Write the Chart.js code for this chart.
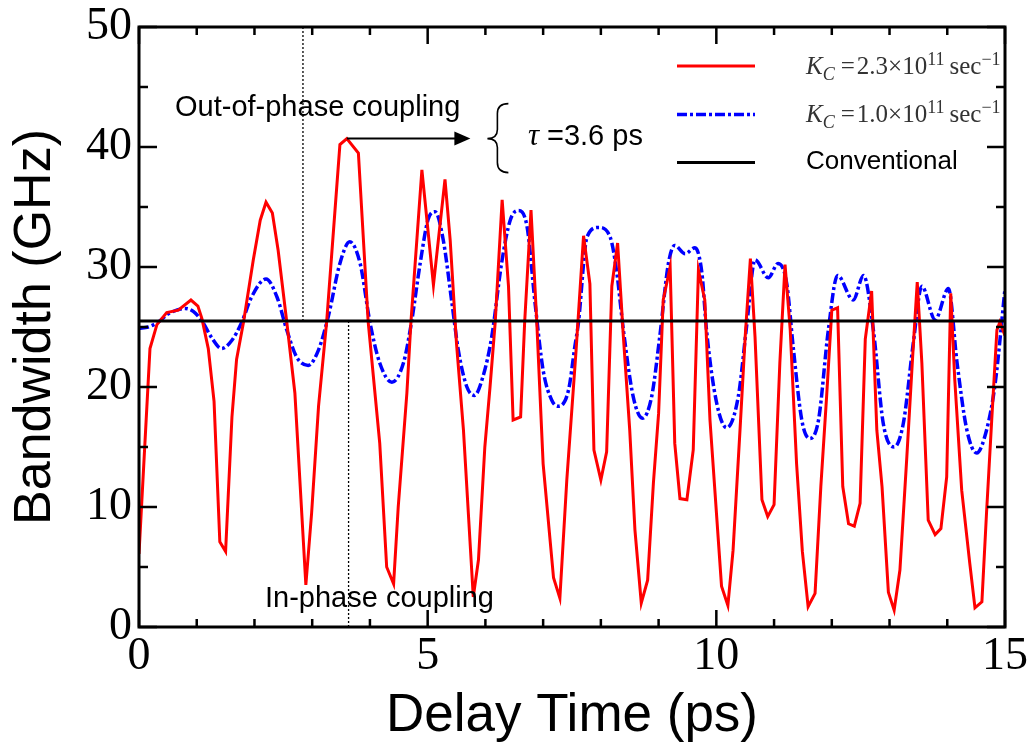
<!DOCTYPE html>
<html><head><meta charset="utf-8">
<script src="https://cdn.jsdelivr.net/npm/chart.js@4.4.1/dist/chart.umd.min.js"></script>
<style>html,body{margin:0;padding:0;background:#fff}#wrap{width:1035px;height:749px}</style>
</head><body><div id="wrap"><canvas id="c" width="1035" height="749"></canvas></div>
<script>
// ---------- data ----------
const redTime = [0,0.19,0.31,0.48,0.68,0.90,1.02,1.09,1.20,1.30,1.40,1.50,1.61,1.69,1.81,1.98,2.10,2.20,2.31,2.41,2.56,2.70,2.89,2.99,3.11,3.25,3.48,3.60,3.80,3.97,4.17,4.29,4.41,4.49,4.64,4.71,4.90,5.10,5.30,5.39,5.50,5.62,5.79,5.88,5.99,6.08,6.17,6.29,6.40,6.48,6.61,6.68,6.79,6.89,7.00,7.18,7.29,7.41,7.57,7.70,7.81,7.88,8.00,8.10,8.19,8.29,8.39,8.50,8.59,8.70,8.81,8.91,9.00,9.08,9.20,9.28,9.37,9.49,9.60,9.69,9.80,9.89,10.09,10.20,10.29,10.41,10.50,10.59,10.67,10.79,10.89,11.00,11.10,11.19,11.28,11.39,11.49,11.59,11.71,11.81,11.91,12.00,12.10,12.19,12.29,12.39,12.49,12.58,12.69,12.78,12.87,12.98,13.08,13.18,13.30,13.40,13.48,13.56,13.67,13.79,13.89,13.99,14.06,14.13,14.25,14.39,14.48,14.60,14.68,14.77,14.86,14.91,15.00];
const redBandwidth = [6.1,23.2,25.2,26.2,26.4,27.25,26.75,25.7,23.2,18.8,7.1,6.3,17.5,22.3,25.4,30.6,33.9,35.4,34.5,31.4,25.4,19.5,3.5,9.5,18.4,25.4,40.2,40.7,39.5,25.4,15.3,5.0,3.6,10.0,19.5,25.4,38.1,28.5,37.3,32.25,23.6,16.4,2.5,5.6,15.0,20.0,25.4,35.6,28.4,17.25,17.5,25.4,34.75,25.4,13.6,4.1,2.4,12.25,23.0,32.6,28.6,14.75,12.25,14.6,28.4,32.0,24.2,16.4,8.1,2.0,3.9,12.0,17.8,27.25,30.0,15.3,10.7,10.6,14.75,29.75,27.25,17.25,3.4,1.8,6.4,16.4,24.2,30.7,24.2,10.6,9.2,10.2,22.0,30.2,24.75,13.6,6.3,1.7,2.8,11.7,19.2,26.4,26.6,11.7,8.6,8.4,10.3,24.0,28.0,16.4,11.7,2.9,1.4,4.75,14.2,22.5,28.75,22.0,8.9,7.7,8.2,12.5,27.8,20.6,11.4,5.3,1.6,2.1,9.5,17.25,24.75,25.4,24.3];

const blueTime = [0,0.16,0.33,0.51,0.80,0.94,1.09,1.26,1.43,1.61,1.78,1.95,2.20,2.39,2.56,2.73,2.93,3.11,3.28,3.48,3.65,3.83,4.00,4.17,4.38,4.58,4.72,4.87,5.01,5.13,5.27,5.42,5.53,5.68,5.81,5.96,6.11,6.28,6.43,6.57,6.72,6.86,7.00,7.15,7.26,7.44,7.55,7.61,7.76,7.96,8.16,8.27,8.39,8.56,8.72,8.88,9.02,9.17,9.28,9.46,9.63,9.75,9.83,10.00,10.18,10.38,10.53,10.67,10.90,11.07,11.22,11.33,11.48,11.62,11.77,11.94,12.10,12.37,12.55,12.72,12.89,13.08,13.24,13.41,13.56,13.79,14.02,14.17,14.34,14.51,14.68,14.83,15.00];
const blueBandwidth = [24.9,25.0,25.4,26.1,26.55,26.3,25.5,24.1,23.2,23.9,25.4,27.5,29.0,27.5,24.75,22.5,21.8,23.1,25.9,30.3,32.1,30.3,25.4,22.0,20.4,22.0,25.4,30.3,34.0,34.6,32.25,27.0,23.1,20.0,19.3,20.9,24.2,30.3,33.9,34.7,33.4,27.0,21.4,18.9,18.4,19.75,23.4,25.3,32.5,33.3,32.5,29.75,24.75,19.2,17.4,19.2,24.2,30.3,31.8,31.1,31.6,29.5,24.75,18.8,16.6,19.2,25.3,30.6,29.1,30.3,28.6,23.4,17.25,15.7,17.25,24.75,29.3,27.25,29.3,24.75,17.0,15.0,17.0,23.6,28.4,25.6,28.2,22.0,16.4,14.5,16.4,20.3,28.2];

const convTime = [0, 15];
const convBandwidth = [25.5, 25.5];

const xMajorTicks = [0, 5, 10, 15];
const yMajorTicks = [0, 10, 20, 30, 40, 50];

// annotation anchors (data units)
const inPhaseLineT = 2.84;
const outPhaseLineT = 3.63;
const arrowStart = {x: 3.6, y: 40.7};
const arrowEndT = 5.74;

const legendItems = [
  {kind: 'kc', value: '2.3', color: '#ff0000', dash: [], width: 3},
  {kind: 'kc', value: '1.0', color: '#0000ff', dash: [10,3,3,3], width: 3.5},
  {kind: 'text', text: 'Conventional', color: '#000000', dash: [], width: 3}
];

// ---------- chart ----------
const toPts = (t, v) => t.map((x, i) => ({x, y: v[i]}));

const SERIF = '"Liberation Serif", "Times New Roman", serif';
const SANS = '"Liberation Sans", Arial, sans-serif';

const overlay = {
  id: 'overlay',
  beforeDatasetsDraw(chart) {
    const {ctx, chartArea: a, scales: {x, y}} = chart;
    ctx.save();
    ctx.strokeStyle = '#000';
    ctx.lineWidth = 1.3;
    ctx.setLineDash([2, 2]);
    const yc = y.getPixelForValue(convBandwidth[0]);
    let px = x.getPixelForValue(inPhaseLineT);
    ctx.beginPath(); ctx.moveTo(px, a.top); ctx.lineTo(px, yc); ctx.stroke();
    px = x.getPixelForValue(outPhaseLineT);
    ctx.beginPath(); ctx.moveTo(px, yc); ctx.lineTo(px, a.bottom); ctx.stroke();
    ctx.restore();
  },
  afterDraw(chart) {
    const {ctx, chartArea: a, scales: {x, y}} = chart;
    ctx.save();
    // frame
    ctx.strokeStyle = '#000';
    ctx.lineWidth = 3;
    ctx.setLineDash([]);
    ctx.strokeRect(a.left, a.top, a.right - a.left, a.bottom - a.top);
    // ticks (inward, on all four sides)
    ctx.lineWidth = 2.5;
    x.ticks.forEach(t => {
      const p = x.getPixelForValue(t.value);
      const len = xMajorTicks.includes(t.value) ? 17 : 8;
      ctx.beginPath();
      ctx.moveTo(p, a.bottom); ctx.lineTo(p, a.bottom - len);
      ctx.moveTo(p, a.top); ctx.lineTo(p, a.top + len);
      ctx.stroke();
    });
    y.ticks.forEach(t => {
      const p = y.getPixelForValue(t.value);
      const len = yMajorTicks.includes(t.value) ? 18 : 9;
      ctx.beginPath();
      ctx.moveTo(a.left, p); ctx.lineTo(a.left + len, p);
      ctx.moveTo(a.right, p); ctx.lineTo(a.right - len, p);
      ctx.stroke();
    });

    // arrow
    const ax0 = x.getPixelForValue(arrowStart.x), ay = y.getPixelForValue(arrowStart.y);
    const ax1 = x.getPixelForValue(arrowEndT);
    ctx.lineWidth = 2;
    ctx.beginPath(); ctx.moveTo(ax0, ay); ctx.lineTo(ax1 - 12, ay); ctx.stroke();
    ctx.fillStyle = '#000';
    ctx.beginPath(); ctx.moveTo(ax1, ay); ctx.lineTo(ax1 - 16, ay - 7); ctx.lineTo(ax1 - 16, ay + 7); ctx.closePath(); ctx.fill();

    // brace
    const bx = ax1 + 27, bt = ay - 35, bb = ay + 34;
    ctx.lineWidth = 1.6;
    ctx.beginPath();
    ctx.moveTo(bx + 11, bt);
    ctx.quadraticCurveTo(bx, bt, bx, bt + 10);
    ctx.lineTo(bx, ay - 9);
    ctx.quadraticCurveTo(bx, ay, bx - 10, ay);
    ctx.quadraticCurveTo(bx, ay, bx, ay + 9);
    ctx.lineTo(bx, bb - 10);
    ctx.quadraticCurveTo(bx, bb, bx + 11, bb);
    ctx.stroke();

    // texts
    ctx.fillStyle = '#000';
    ctx.textBaseline = 'alphabetic';
    ctx.textAlign = 'left';
    ctx.font = 'italic 31px ' + SERIF;
    ctx.fillText('\u03c4', 528, ay + 6);
    ctx.font = '29px ' + SANS;
    ctx.fillText('=3.6 ps', 547, ay + 6);
    ctx.fillText('Out-of-phase coupling', 175, 116);
    ctx.fillText('In-phase coupling', 265, 607);

    // legend
    const lx0 = 677, lx1 = 755, tx = 806;
    const rows = [66, 114.5, 162.5];
    legendItems.forEach((it, i) => {
      const ly = rows[i];
      ctx.strokeStyle = it.color;
      ctx.lineWidth = it.width;
      ctx.setLineDash(it.dash);
      ctx.beginPath(); ctx.moveTo(lx0, ly); ctx.lineTo(lx1, ly); ctx.stroke();
      ctx.setLineDash([]);
      ctx.fillStyle = '#000';
      if (it.kind === 'text') {
        ctx.font = '26px ' + SANS;
        ctx.fillText(it.text, tx, ly + 6);
      } else {
        const base = ly + 7.5;
        let cx = tx;
        const put = (s, font, dy) => { ctx.font = font; ctx.fillText(s, cx, base + dy); cx += ctx.measureText(s).width; };
        ctx.fillStyle = '#333';
        put('K', 'italic 25px ' + SERIF, 0);
        put('C', 'italic 18px ' + SERIF, 6);
        cx += 6;
        put('=', '25px ' + SERIF, 0);
        cx += 2;
        put(it.value + '\u00d710', '25px ' + SERIF, 0);
        put('11', '18px ' + SERIF, -9);
        cx += 5;
        put('sec', '25px ' + SERIF, 0);
        put('\u22121', '18px ' + SERIF, -9);
      }
    });
    ctx.restore();
  }
};

new Chart(document.getElementById('c'), {
  type: 'line',
  data: {
    datasets: [
      {label: 'Conventional', data: toPts(convTime, convBandwidth), borderColor: '#000', borderWidth: 3, pointRadius: 0, order: 0},
      {label: 'KC = 2.3e11 /s', data: toPts(redTime, redBandwidth), borderColor: '#ff0000', borderWidth: 3, pointRadius: 0, tension: 0, order: 1},
      {label: 'KC = 1.0e11 /s', data: toPts(blueTime, blueBandwidth), borderColor: '#0000ff', borderWidth: 3.5, borderDash: [10,3,3,3], pointRadius: 0, cubicInterpolationMode: 'monotone', order: 2}
    ]
  },
  options: {
    responsive: false,
    animation: false,
    devicePixelRatio: 1,
    layout: {padding: {top: 27, right: 30, left: 0, bottom: 0}},
    plugins: {legend: {display: false}, tooltip: {enabled: false}},
    scales: {
      x: {
        type: 'linear', min: 0, max: 15,
        grid: {display: false, drawTicks: false},
        border: {display: false},
        ticks: {stepSize: 1, autoSkip: false, maxRotation: 0, padding: 2, color: '#000',
          font: {family: SERIF, size: 46, lineHeight: 1.2},
          callback: v => xMajorTicks.includes(v) ? String(v) : ''},
        title: {display: true, text: 'Delay Time (ps)', color: '#000', font: {family: SANS, size: 53, lineHeight: 1.2}, padding: {top: 0, bottom: 1}},
        afterFit: s => { s.height = 122; }
      },
      y: {
        type: 'linear', min: 0, max: 50,
        grid: {display: false, drawTicks: false},
        border: {display: false},
        ticks: {stepSize: 5, autoSkip: false, padding: 7, color: '#000',
          font: {family: SERIF, size: 46, lineHeight: 0.8},
          callback: v => yMajorTicks.includes(v) ? String(v) : ''},
        title: {display: true, text: 'Bandwidth (GHz)', color: '#000', font: {family: SANS, size: 52, lineHeight: 1.2}, padding: {top: 4, bottom: 0}},
        afterFit: s => { s.width = 139; s.paddingTop = 0; s.paddingBottom = 0; }
      }
    }
  },
  plugins: [overlay]
});
</script></body></html>
